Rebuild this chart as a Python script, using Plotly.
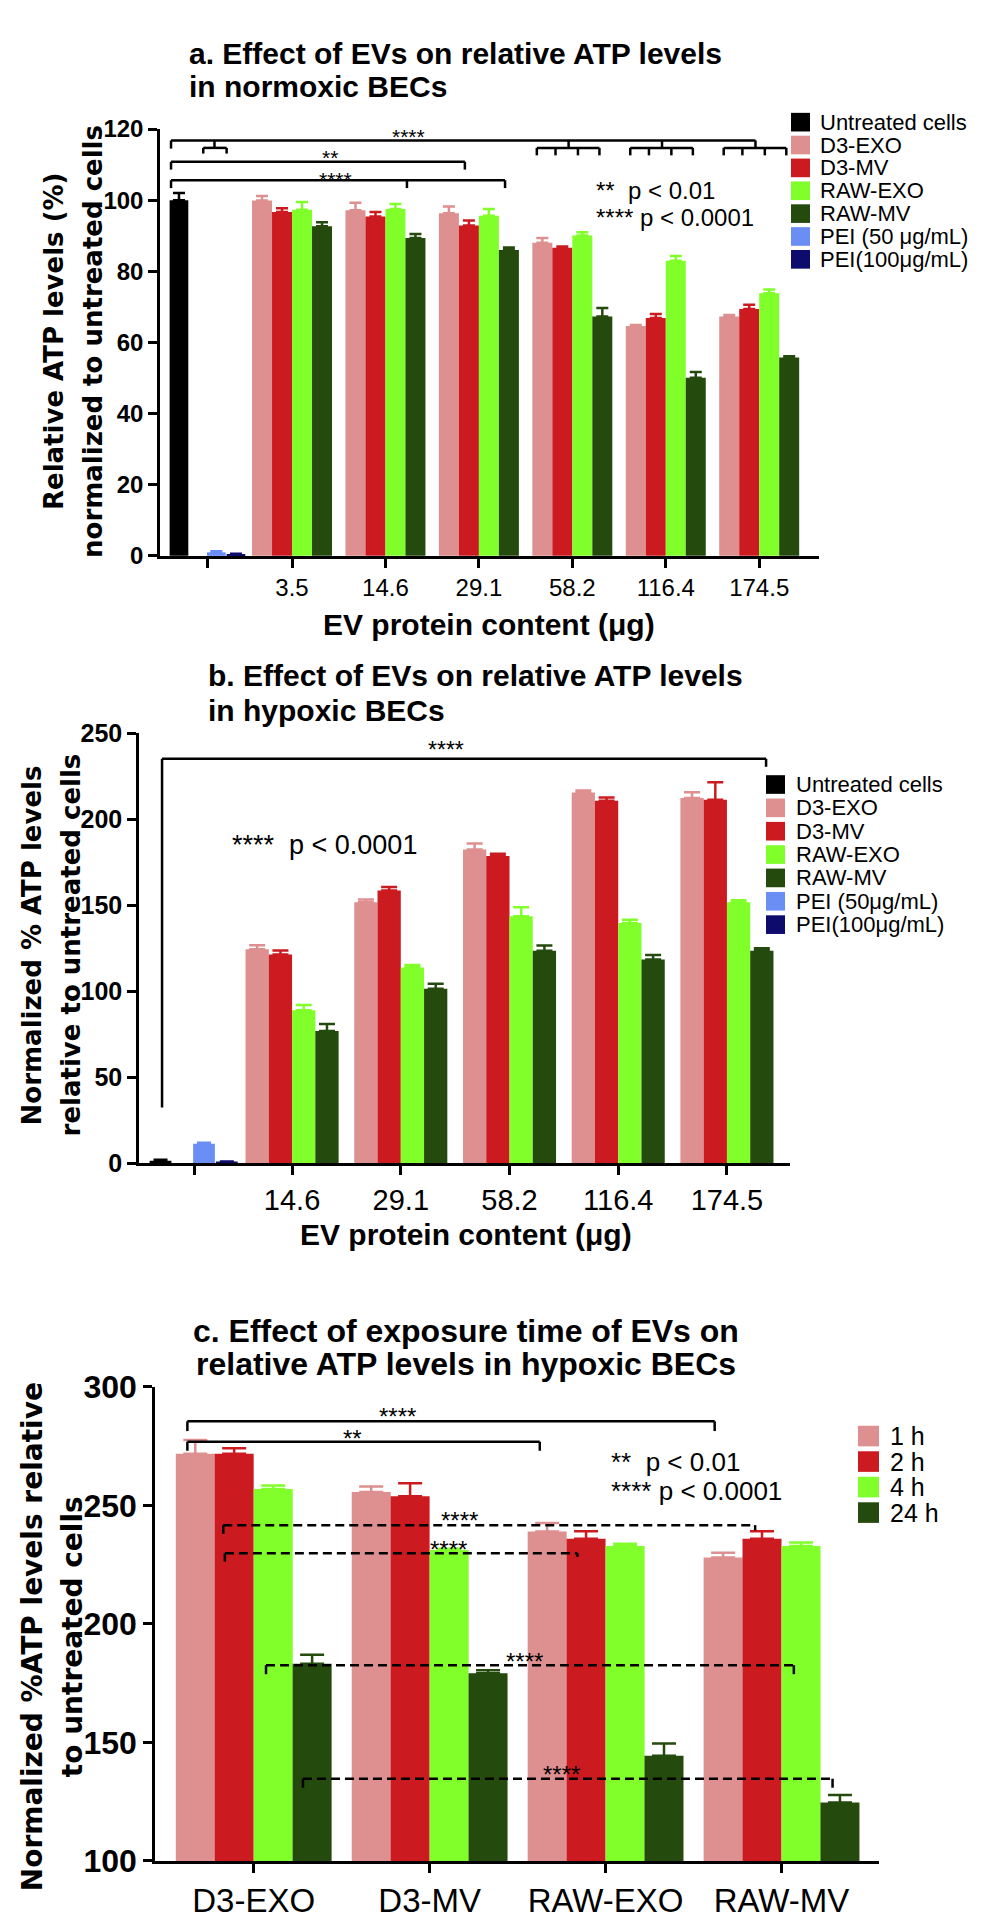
import plotly.graph_objects as go

FIG_W, FIG_H = 985, 1920

# colours
BLACK = "#000000"
PINK = "#DE8F8F"
RED = "#CC1B20"
LIME = "#80FF2B"
DKGREEN = "#244A0D"
PEI50_BLUE = "#6B8EF5"
PEI100_NAVY = "#0D0B6B"

FONT = "Liberation Sans, Arial, Helvetica, sans-serif"
FONT_WIDE = "DejaVu Sans, Verdana, sans-serif"

# ---------------- data ----------------
# a. normoxic BECs
doses_a = ["3.5", "14.6", "29.1", "58.2", "116.4", "174.5"]
d3_exo_a = [99.9, 97.2, 96.3, 88.0, 64.6, 67.3]
d3_exo_a_err = [1.3, 2.1, 1.9, 1.4, 0.3, 0.4]
d3_mv_a = [96.7, 95.4, 92.9, 86.6, 66.9, 69.4]
d3_mv_a_err = [1.0, 1.3, 1.4, 0.4, 1.1, 1.2]
raw_exo_a = [97.3, 97.5, 95.6, 90.1, 83.0, 73.8]
raw_exo_a_err = [2.2, 1.4, 1.9, 0.9, 1.3, 1.1]
raw_mv_a = [92.7, 89.4, 86.0, 67.3, 50.1, 55.8]
raw_mv_a_err = [1.1, 1.1, 0.7, 2.4, 1.6, 0.3]
controls_a = [100.0, 1.0, 0.4]        # untreated, PEI 50, PEI 100
controls_a_err = [2.0, 0.3, 0.2]

# b. hypoxic BECs
doses_b = ["14.6", "29.1", "58.2", "116.4", "174.5"]
d3_exo_b = [124.5, 151.9, 182.5, 215.6, 212.5]
d3_exo_b_err = [2.3, 1.5, 3.5, 1.3, 3.3]
d3_mv_b = [121.5, 158.6, 178.7, 210.8, 211.4]
d3_mv_b_err = [2.3, 2.1, 1.3, 1.9, 10.3]
raw_exo_b = [89.0, 113.9, 143.7, 139.7, 151.9]
raw_exo_b_err = [3.0, 1.5, 5.2, 1.9, 1.1]
raw_mv_b = [77.0, 101.5, 123.6, 118.6, 123.6]
raw_mv_b_err = [4.0, 2.9, 3.0, 2.5, 1.4]
controls_b = [1.5, 11.4, 0.8]
controls_b_err = [0.5, 0.6, 0.2]

# c. exposure time, hypoxic BECs
ev_types_c = ["D3-EXO", "D3-MV", "RAW-EXO", "RAW-MV"]
h1_c = [271.8, 255.7, 239.0, 228.0]
h1_c_err = [5.8, 2.3, 3.6, 2.0]
h2_c = [271.8, 253.9, 236.0, 236.0]
h2_c_err = [2.3, 5.5, 3.1, 3.1]
h4_c = [256.9, 231.2, 232.9, 232.9]
h4_c_err = [1.5, 0.5, 1.0, 1.5]
h24_c = [183.2, 179.2, 144.4, 124.7]
h24_c_err = [3.8, 1.3, 5.2, 3.1]

legend_a = ["Untreated cells", "D3-EXO", "D3-MV", "RAW-EXO", "RAW-MV",
            "PEI (50 μg/mL)", "PEI(100μg/mL)"]
legend_b = ["Untreated cells", "D3-EXO", "D3-MV", "RAW-EXO", "RAW-MV",
            "PEI (50μg/mL)", "PEI(100μg/mL)"]
legend_c = ["1 h", "2 h", "4 h", "24 h"]
legend_colors = [BLACK, PINK, RED, LIME, DKGREEN, PEI50_BLUE, PEI100_NAVY]

# bar placement within a group (group spacing = 1)
EV_OFF = [-0.321, -0.107, 0.107, 0.321]
EV_W = 0.214
CTRL_POS = [-1.21, -0.81, -0.60]
CTRL_W = 0.2
TIME_OFF = [-0.332, -0.111, 0.111, 0.332]
TIME_W = 0.2216


def px_x(px):
    return px / FIG_W


def px_y(py):
    return 1 - py / FIG_H


fig = go.Figure()


def add_bars(x, y, err, color, width, xa, ya, cap):
    fig.add_trace(go.Bar(
        x=x, y=y, width=width,
        marker=dict(color=color, line=dict(width=0)),
        error_y=dict(type="data", symmetric=False, array=err,
                     arrayminus=[0] * len(err), color=color,
                     thickness=2.5, width=cap),
        xaxis=xa, yaxis=ya, showlegend=False,
    ))


# --- panel a ---
for i, c in enumerate([BLACK, PEI50_BLUE, PEI100_NAVY]):
    add_bars([CTRL_POS[i]], [controls_a[i]], [controls_a_err[i]], c, CTRL_W, "x", "y", 6)
for k, (vals, errs, c) in enumerate([(d3_exo_a, d3_exo_a_err, PINK),
                                     (d3_mv_a, d3_mv_a_err, RED),
                                     (raw_exo_a, raw_exo_a_err, LIME),
                                     (raw_mv_a, raw_mv_a_err, DKGREEN)]):
    add_bars([g + EV_OFF[k] for g in range(len(doses_a))], vals, errs, c, EV_W, "x", "y", 6)

# --- panel b ---
for i, c in enumerate([BLACK, PEI50_BLUE, PEI100_NAVY]):
    add_bars([CTRL_POS[i]], [controls_b[i]], [controls_b_err[i]], c, CTRL_W, "x2", "y2", 7)
for k, (vals, errs, c) in enumerate([(d3_exo_b, d3_exo_b_err, PINK),
                                     (d3_mv_b, d3_mv_b_err, RED),
                                     (raw_exo_b, raw_exo_b_err, LIME),
                                     (raw_mv_b, raw_mv_b_err, DKGREEN)]):
    add_bars([g + EV_OFF[k] for g in range(len(doses_b))], vals, errs, c, EV_W, "x2", "y2", 8)

# --- panel c ---
for k, (vals, errs, c) in enumerate([(h1_c, h1_c_err, PINK),
                                     (h2_c, h2_c_err, RED),
                                     (h4_c, h4_c_err, LIME),
                                     (h24_c, h24_c_err, DKGREEN)]):
    add_bars([g + TIME_OFF[k] for g in range(len(ev_types_c))], vals, errs, c, TIME_W, "x3", "y3", 12)


# ---------------- axes ----------------
def x_axis(dom, rng, tickvals, ticktext, size, anchor):
    return dict(domain=[px_x(dom[0]), px_x(dom[1])], range=rng, anchor=anchor,
                tickvals=tickvals, ticktext=ticktext, showline=True, linewidth=2.5,
                linecolor="black", ticks="outside", ticklen=9, tickwidth=2.5,
                tickcolor="black", showgrid=False, zeroline=False,
                tickfont=dict(family=FONT, size=size, color="black"))


def y_axis(dom, rng, dtick, size, anchor):
    return dict(domain=[px_y(dom[1]), px_y(dom[0])], range=rng, anchor=anchor,
                dtick=dtick, showline=True, linewidth=2.5, linecolor="black",
                ticks="outside", ticklen=9, tickwidth=2.5, tickcolor="black",
                showgrid=False, zeroline=False,
                tickfont=dict(family=FONT, size=size, color="black", weight="bold"))


fig.update_layout(
    xaxis=x_axis((152, 811), [-1.413, 5.64], [-0.9] + list(range(len(doses_a))),
                 [""] + doses_a, 24, "y"),
    yaxis=y_axis((105, 540), [0, 120], 20, 24, "x"),
    xaxis2=x_axis((131, 782), [-1.408, 4.58], [-0.9] + list(range(len(doses_b))),
                  [""] + doses_b, 29, "y2"),
    yaxis2=y_axis((721, 1159), [0, 250], 50, 25, "x2"),
    xaxis3=x_axis((147, 871), [-0.561, 3.554], list(range(len(ev_types_c))),
                  ev_types_c, 33, "y3"),
    yaxis3=y_axis((1387, 1870), [100, 300], 50, 32, "x3"),
)

# ---------------- brackets ----------------
shapes = []


def polyline(pts, xref, yref, dash="solid"):
    for (x0, y0), (x1, y1) in zip(pts[:-1], pts[1:]):
        shapes.append(dict(type="line", x0=x0, y0=y0, x1=x1, y1=y1, xref=xref, yref=yref,
                           line=dict(color="black", width=2.5, dash=dash)))


# panel a
polyline([(-1.295, 114.5), (-1.295, 116.8), (4.96, 116.8), (4.96, 114.7)], "x", "y")
polyline([(-0.83, 116.8), (-0.83, 114.7)], "x", "y")
polyline([(-0.95, 113.1), (-0.95, 114.7), (-0.70, 114.7), (-0.70, 113.1)], "x", "y")
for g in (3, 4):
    polyline([(g - 0.04, 116.8), (g - 0.04, 114.7)], "x", "y")
for g in (3, 4, 5):
    drops = [g - 0.38, g - 0.18, g + 0.06, g + 0.29]
    polyline([(drops[0], 114.7), (drops[-1], 114.7)], "x", "y")
    for d in drops:
        polyline([(d, 114.7), (d, 112.6)], "x", "y")
polyline([(-1.295, 108.6), (-1.295, 110.8), (1.85, 110.8), (1.85, 108.6)], "x", "y")
polyline([(-1.295, 103.4), (-1.295, 105.6), (2.28, 105.6), (2.28, 103.4)], "x", "y")
polyline([(1.23, 105.6), (1.23, 103.4)], "x", "y")

# panel b
polyline([(-1.196, 32.5), (-1.196, 235.3), (4.36, 235.3), (4.36, 230.6)], "x2", "y2")

# panel c
DASH = "9px,5px"
polyline([(-0.377, 281.4), (-0.377, 285.5), (2.62, 285.5), (2.62, 281.4)], "x3", "y3")
polyline([(-0.377, 273.1), (-0.377, 276.9), (1.626, 276.9), (1.626, 273.1)], "x3", "y3")
polyline([(-0.173, 238.0), (-0.173, 241.7), (2.85, 241.7), (2.85, 239.5)], "x3", "y3", DASH)
polyline([(-0.164, 226.3), (-0.164, 229.8), (1.84, 229.8), (1.84, 228.3)], "x3", "y3", DASH)
polyline([(0.07, 178.8), (0.07, 182.6), (3.07, 182.6), (3.07, 178.8)], "x3", "y3", DASH)
polyline([(0.28, 130.9), (0.28, 134.7), (3.29, 134.7), (3.29, 130.9)], "x3", "y3", DASH)

annotations = []


def stars(text, x, y, xref, yref, size):
    annotations.append(dict(text=text, x=x, y=y, xref=xref, yref=yref, showarrow=False,
                            xanchor="center", yanchor="middle", yshift=-5,
                            font=dict(family=FONT, size=size, color="black")))


stars("****", 1.25, 119.3, "x", "y", 21)
stars("**", 0.41, 113.3, "x", "y", 21)
stars("****", 0.46, 107.3, "x", "y", 21)
stars("****", 1.417, 243.5, "x2", "y2", 23)
stars("****", 0.815, 289.5, "x3", "y3", 24)
stars("**", 0.56, 280.5, "x3", "y3", 24)
stars("****", 1.17, 245.9, "x3", "y3", 24)
stars("****", 1.105, 233.5, "x3", "y3", 24)
stars("****", 1.54, 186.3, "x3", "y3", 24)
stars("****", 1.75, 138.5, "x3", "y3", 24)


def text(t, px, py, size, xanchor="left", bold=False, angle=0, family=FONT):
    annotations.append(dict(text=f"<b>{t}</b>" if bold else t, x=px_x(px), y=px_y(py),
                            xref="paper", yref="paper", showarrow=False,
                            xanchor=xanchor, yanchor="middle", textangle=angle,
                            borderpad=0,
                            font=dict(family=family, size=size, color="black")))


# titles
text("a. Effect of EVs on relative ATP levels", 180, 28, 30, bold=True)
text("in normoxic BECs", 180, 62, 30, bold=True)
text("b. Effect of EVs on relative ATP levels", 199, 662, 30, bold=True)
text("in hypoxic BECs", 199, 698, 30, bold=True)
text("c. Effect of exposure time of EVs on", 458, 1330, 32, xanchor="center", bold=True)
text("relative ATP levels in hypoxic BECs", 458, 1364, 32, xanchor="center", bold=True)

# axis titles
text("EV protein content (μg)", 481, 610, 30, xanchor="center", bold=True)
text("EV protein content (μg)", 458, 1232, 30, xanchor="center", bold=True)
text("Relative ATP levels (%)", 46, 322, 26, xanchor="center", bold=True, angle=-90, family=FONT_WIDE)
text("normalized to untreated cells", 85, 322, 26, xanchor="center", bold=True, angle=-90, family=FONT_WIDE)
text("Normalized % ATP levels", 24, 937, 26, xanchor="center", bold=True, angle=-90, family=FONT_WIDE)
text("relative to untreated cells", 63, 937, 26, xanchor="center", bold=True, angle=-90, family=FONT_WIDE)
text("Normalized %ATP levels relative", 24, 1642, 28, xanchor="center", bold=True, angle=-90, family=FONT_WIDE)
text("to untreated cells", 64, 1642, 28, xanchor="center", bold=True, angle=-90, family=FONT_WIDE)

# significance keys
text("**&nbsp;&nbsp;p &lt; 0.01", 587, 168, 24)
text("****&nbsp;p &lt; 0.0001", 587, 195, 24)
text("****&nbsp;&nbsp;p &lt; 0.0001", 223, 835, 27)
text("**&nbsp;&nbsp;p &lt; 0.01", 602, 1463, 26)
text("****&nbsp;p &lt; 0.0001", 602, 1493, 26)


# legends
def legend(names, colors, sq_x, text_x, y0, step, sq, size):
    for i, (n, c) in enumerate(zip(names, colors)):
        cy = y0 + i * step
        shapes.append(dict(type="rect", xref="paper", yref="paper",
                           x0=px_x(sq_x), x1=px_x(sq_x + sq),
                           y0=px_y(cy + sq / 2), y1=px_y(cy - sq / 2),
                           fillcolor=c, line=dict(width=0)))
        text(n, text_x, cy, size)


legend(legend_a, legend_colors, 783, 811, 98, 23.3, 19, 22)
legend(legend_b, legend_colors, 758, 787, 773, 23.8, 19, 22)
legend(legend_c, [PINK, RED, LIME, DKGREEN], 850, 881, 1437, 26, 21, 25)

fig.update_layout(
    width=FIG_W, height=FIG_H,
    margin=dict(l=0, r=0, t=0, b=0),
    paper_bgcolor="white", plot_bgcolor="white",
    barmode="overlay", showlegend=False,
    shapes=shapes, annotations=annotations,
)

fig.write_html("out.html")
